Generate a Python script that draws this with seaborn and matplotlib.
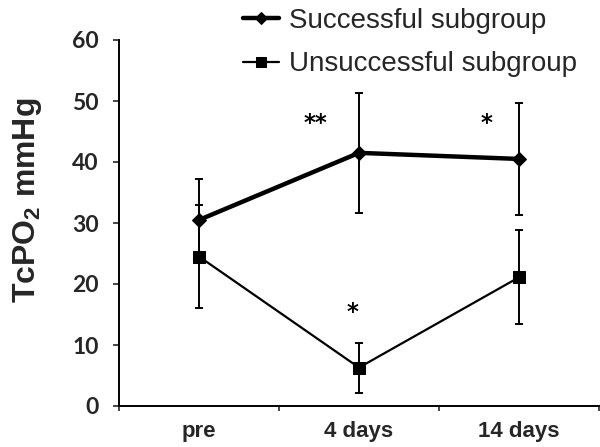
import matplotlib
matplotlib.use("Agg")
import matplotlib.pyplot as plt
import seaborn as sns

# ---- data ----
categories = ["pre", "4 days", "14 days"]
succ_mean = [30.5, 41.5, 40.5]
succ_sd = [6.7, 9.8, 9.2]
unsucc_mean = [24.5, 6.3, 21.1]
unsucc_sd = [8.5, 4.1, 7.7]
yticks = [0, 10, 20, 30, 40, 50, 60]
star_labels = ["**", "*", "*"]
star_x = [0.725, 1.794, 0.9625]
star_y = [46.3, 46.3, 15.4]

sns.set_style("ticks")
plt.rcParams["font.family"] = ["Liberation Sans", "DejaVu Sans"]
plt.rcParams["mathtext.fontset"] = "custom"
plt.rcParams["mathtext.rm"] = "Liberation Sans:bold"
plt.rcParams["mathtext.it"] = "Liberation Sans:bold"
plt.rcParams["mathtext.bf"] = "Liberation Sans:bold"

fig = plt.figure(figsize=(6.0, 4.47), dpi=100)
ax = fig.add_axes([119 / 600, 41 / 447, 480 / 600, 366 / 447])

sns.lineplot(x=categories, y=succ_mean, marker="D", color="black", linewidth=3.2,
             markersize=7, markeredgecolor="black", label="Successful subgroup",
             ax=ax, sort=False)
sns.lineplot(x=categories, y=unsucc_mean, marker="s", color="black", linewidth=1.6,
             markersize=8, markeredgecolor="black", label="Unsuccessful subgroup",
             ax=ax, sort=False)

ax.errorbar(categories, succ_mean, yerr=succ_sd, fmt="none", ecolor="black",
            elinewidth=1.4, capsize=3, capthick=1.4, zorder=1)
ax.errorbar(categories, unsucc_mean, yerr=unsucc_sd, fmt="none", ecolor="black",
            elinewidth=1.4, capsize=3, capthick=1.4, zorder=1)

for lab, sx, sy in zip(star_labels, star_x, star_y):
    ax.text(sx, sy, lab, ha="center", va="center", fontsize=16.5,
            fontweight="bold", family=["DejaVu Sans"], color="black")

ax.set_xlim(-0.5, 2.5)
ax.set_ylim(0, 60)
ax.set_yticks(yticks)
ax.set_yticklabels([str(v) for v in yticks], fontsize=16.5, fontweight="bold",
                   family=["Lato", "DejaVu Sans"])
ax.set_xticks([0, 1, 2])
ax.set_xticklabels(categories, fontsize=16, fontweight="bold")
ax.set_xticks([-0.5, 0.5, 1.5, 2.5], minor=True)
ax.tick_params(axis="x", which="major", length=0, pad=11)
ax.tick_params(axis="x", which="minor", length=3.5, width=1.2, direction="out")
ax.tick_params(axis="y", which="major", length=4.5, width=1.2, pad=10, direction="out")

for side in ["top", "right"]:
    ax.spines[side].set_visible(False)
for side in ["left", "bottom"]:
    ax.spines[side].set_linewidth(1.4)
    ax.spines[side].set_color("black")

ax.set_ylabel("TcPO$_2$ mmHg", fontsize=23, fontweight="bold", va="center")
ax.yaxis.set_label_coords(-0.19, 0.563)
ax.set_xlabel("")

ax.legend(loc="upper left", bbox_to_anchor=(243 / 600, 1 - 8 / 447),
          bbox_transform=fig.transFigure, frameon=False, fontsize=20,
          borderpad=0, borderaxespad=0, handlelength=1.28, handletextpad=0.38,
          labelspacing=0.62, markerscale=0.9)

fig.savefig("out.png", dpi=100)
